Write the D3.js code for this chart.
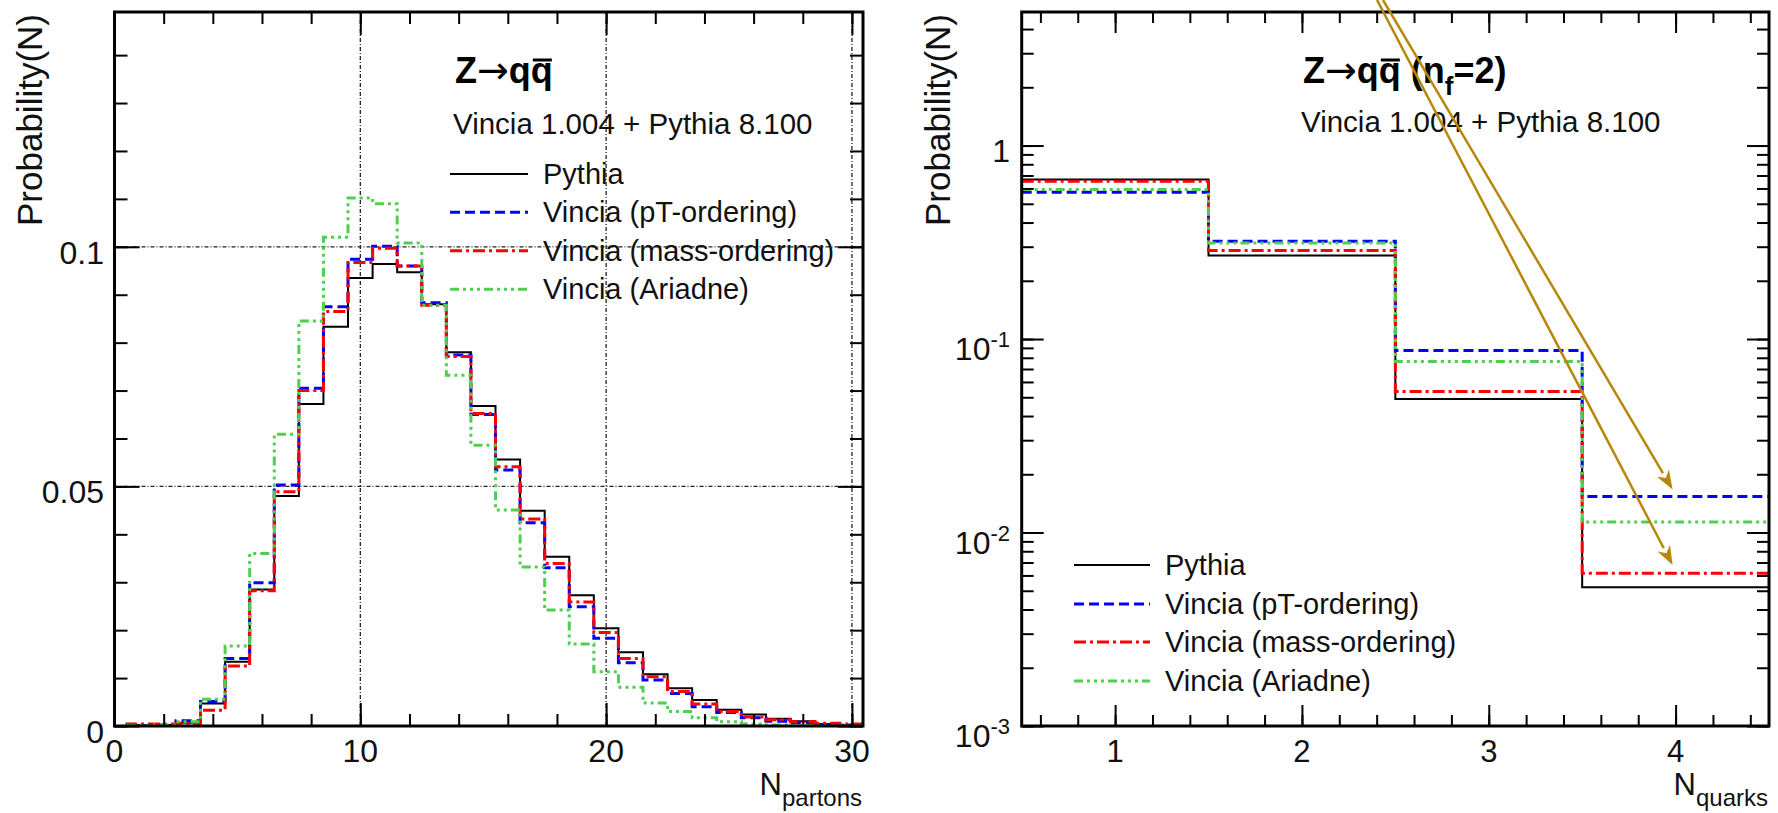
<!DOCTYPE html>
<html>
<head>
<meta charset="utf-8">
<script src="https://cdn.jsdelivr.net/npm/d3@7"></script>
<style>
  body { margin: 0; background: #fff; }
  svg { display: block; font-family: "Liberation Sans", Arial, Helvetica, sans-serif; }
</style>
</head>
<body>
<svg id="chart" width="1778" height="813"></svg>
<script>
var seriesNames = ["Pythia", "Vincia (pT-ordering)", "Vincia (mass-ordering)", "Vincia (Ariadne)"]

// left panel: number of partons
var partonBins = [1, 2, 3, 4, 5, 6, 7, 8, 9, 10, 11, 12, 13, 14, 15, 16, 17, 18, 19, 20, 21, 22, 23, 24, 25, 26, 27, 28, 29, 30]
var pythiaPartons = [0.0002, 0.0002, 0.0007, 0.0047, 0.0134, 0.0285, 0.0480, 0.0672, 0.0833, 0.0935, 0.0964, 0.0947, 0.0880, 0.0780, 0.0668,
                     0.0556, 0.0449, 0.0353, 0.0273, 0.0204, 0.0154, 0.0108, 0.0079, 0.0054, 0.0034, 0.0024, 0.0015, 0.0010, 0.0004, 0.0002]
var vinciaPtPartons = [0.0001, 0.0002, 0.0011, 0.0051, 0.0141, 0.0299, 0.0503, 0.0705, 0.0875, 0.0974, 0.1001, 0.0960, 0.0883, 0.0774, 0.0650,
                       0.0534, 0.0424, 0.0330, 0.0249, 0.0183, 0.0132, 0.0096, 0.0068, 0.0040, 0.0028, 0.0017, 0.0010, 0.0007, 0.0003, 0.0002]
var vinciaMassPartons = [0.0004, 0.0004, 0.0005, 0.0033, 0.0125, 0.0282, 0.0489, 0.0700, 0.0865, 0.0967, 0.0997, 0.0960, 0.0878, 0.0771, 0.0652,
                         0.0541, 0.0432, 0.0339, 0.0259, 0.0195, 0.0141, 0.0103, 0.0072, 0.0046, 0.0030, 0.0019, 0.0013, 0.0009, 0.0006, 0.0004]
var vinciaAriadnePartons = [0.0001, 0.0002, 0.0009, 0.0056, 0.0167, 0.0360, 0.0609, 0.0845, 0.1020, 0.1102, 0.1090, 0.1008, 0.0878, 0.0732, 0.0586,
                            0.0451, 0.0332, 0.0242, 0.0171, 0.0113, 0.0081, 0.0048, 0.0030, 0.0017, 0.0009, 0.0004, 0.0002, 0.0001, 0.0000, 0.0000]
var partonTicks = [0, 10, 20, 30]
var probTicks = [0, 0.05, 0.1]

// right panel: number of quarks (log scale)
var quarkBins = [1, 2, 3, 4]
var pythiaQuarks = [0.667, 0.270, 0.0490, 0.00521]
var vinciaPtQuarks = [0.574, 0.320, 0.0873, 0.01535]
var vinciaMassQuarks = [0.653, 0.287, 0.0536, 0.00616]
var vinciaAriadneQuarks = [0.592, 0.314, 0.0766, 0.01132]
var quarkTicks = [1, 2, 3, 4]
var logTicks = [0.001, 0.01, 0.1, 1]
var logTickExp = ["-3", "-2", "-1", ""]

// the two hand-drawn arrows, in data coordinates of the right panel
var arrowFrom = [[2.434, 5.65], [2.402, 5.65]]
var arrowTo = [[3.984, 0.0167], [3.984, 0.00679]]

var styles = [
  {color: "#000000", width: 2, dash: null},
  {color: "#0000ff", width: 3, dash: "10,5"},
  {color: "#ff0000", width: 3, dash: "12,4,3,4"},
  {color: "#4fcf4f", width: 3, dash: "9,4,3,4,3,4,3,4"}
]

var svg = d3.select("#chart")
svg.append("rect").attr("width", 1778).attr("height", 813).attr("fill", "#fff")

function stepPoints(bins, values, floor) {
  var pts = []
  if (floor != null) pts.push([bins[0] - 0.5, floor])
  bins.forEach(function(b, i) {
    pts.push([b - 0.5, values[i]])
    pts.push([b + 0.5, values[i]])
  })
  if (floor != null) pts.push([bins[bins.length - 1] + 0.5, floor])
  return pts
}

function drawTicks(g, axisFn, scale, values, len, translate) {
  g.append("g")
   .attr("transform", translate)
   .call(axisFn(scale).tickValues(values).tickSize(-len).tickFormat(""))
   .call(function(a) { a.select(".domain").remove() })
   .selectAll("line").attr("stroke", "#000").attr("stroke-width", 2)
}

function frameTicks(g, x, y, xMinor, xMajor, yMinor, yMajor, lens) {
  var r = x.range(), b = y.range()
  drawTicks(g, d3.axisBottom, x, xMinor, lens[0], "translate(0," + b[0] + ")")
  drawTicks(g, d3.axisBottom, x, xMajor, lens[1], "translate(0," + b[0] + ")")
  drawTicks(g, d3.axisTop, x, xMinor, lens[0], "translate(0," + b[1] + ")")
  drawTicks(g, d3.axisTop, x, xMajor, lens[1], "translate(0," + b[1] + ")")
  drawTicks(g, d3.axisLeft, y, yMinor, lens[2], "translate(" + r[0] + ",0)")
  drawTicks(g, d3.axisLeft, y, yMajor, lens[3], "translate(" + r[0] + ",0)")
  drawTicks(g, d3.axisRight, y, yMinor, lens[2], "translate(" + r[1] + ",0)")
  drawTicks(g, d3.axisRight, y, yMajor, lens[3], "translate(" + r[1] + ",0)")
}

function drawHistos(g, x, y, bins, series, floor, clipId) {
  var line = d3.line().x(function(d) { return x(d[0]) }).y(function(d) { return y(d[1]) })
  var r = x.range(), b = y.range()
  g.append("clipPath").attr("id", clipId).append("rect")
   .attr("x", r[0]).attr("y", b[1]).attr("width", r[1] - r[0]).attr("height", b[0] - b[1])
  series.forEach(function(vals, i) {
    g.append("path")
     .attr("d", line(stepPoints(bins, vals, floor)))
     .attr("clip-path", "url(#" + clipId + ")")
     .attr("fill", "none")
     .attr("stroke", styles[i].color)
     .attr("stroke-width", styles[i].width)
     .attr("stroke-dasharray", styles[i].dash)
  })
}

function drawFrame(g, x, y) {
  var r = x.range(), b = y.range()
  g.append("rect")
   .attr("x", r[0]).attr("y", b[1]).attr("width", r[1] - r[0]).attr("height", b[0] - b[1])
   .attr("fill", "none").attr("stroke", "#000").attr("stroke-width", 3)
}

function drawLegend(g, x1, x2, ys) {
  seriesNames.forEach(function(name, i) {
    g.append("line").attr("x1", x1).attr("x2", x2).attr("y1", ys[i]).attr("y2", ys[i])
     .attr("stroke", styles[i].color).attr("stroke-width", styles[i].width)
     .attr("stroke-dasharray", styles[i].dash)
    g.append("text").attr("x", x2 + 15).attr("y", ys[i] + 10)
     .attr("font-size", 29).attr("fill", "#111").text(name)
  })
}

function drawTitle(g, x0, withNf) {
  var t = g.append("text").attr("x", x0).attr("y", 83).attr("font-size", 36).attr("font-weight", "bold")
  t.append("tspan").text("Z")
  t.append("tspan").attr("font-weight", "normal").attr("font-family", "DejaVu Sans")
   .attr("font-size", 38).text("\u2192")
  t.append("tspan").text("qq")
  if (withNf) {
    t.append("tspan").text(" (n")
    t.append("tspan").attr("dy", 12).attr("font-size", 26).text("f")
    t.append("tspan").attr("dy", -12).text("=2)")
  }
  // bar over the anti-quark
  var node = t.node()
  var s = node.getStartPositionOfChar(3), e = node.getEndPositionOfChar(3)
  g.append("line").attr("x1", s.x + 2).attr("x2", e.x - 1).attr("y1", 60).attr("y2", 60)
   .attr("stroke", "#000").attr("stroke-width", 3)
  g.append("text").attr("x", x0 - 2).attr("y", withNf ? 132 : 134)
   .attr("font-size", 29.5).attr("fill", "#111").text("Vincia 1.004 + Pythia 8.100")
}

function axisTitle(g, xEnd, yLabel, sub, yTitleX) {
  var t = g.append("text").attr("x", xEnd).attr("y", 795).attr("text-anchor", "end")
           .attr("font-size", 31).attr("fill", "#111")
  t.append("tspan").text("N")
  t.append("tspan").attr("dy", 11).attr("font-size", 24).text(sub)
  g.append("text")
   .attr("transform", "translate(" + yTitleX + ",14) rotate(-90)")
   .attr("text-anchor", "end").attr("font-size", 35).attr("fill", "#111")
   .text(yLabel)
}

// ---------- left panel ----------
var left = svg.append("g")
var xL = d3.scaleLinear().domain([0, 30.45]).range([114.5, 863])
var yL = d3.scaleLinear().domain([0, 0.149]).range([726, 12])

left.selectAll(".vgrid").data(partonTicks.slice(1)).enter().append("line")
    .attr("x1", function(d) { return xL(d) }).attr("x2", function(d) { return xL(d) })
    .attr("y1", yL.range()[0]).attr("y2", yL.range()[1])
    .attr("stroke", "#222").attr("stroke-width", 1.3).attr("stroke-dasharray", "4,2,1,2")
left.selectAll(".hgrid").data(probTicks.slice(1)).enter().append("line")
    .attr("y1", function(d) { return yL(d) }).attr("y2", function(d) { return yL(d) })
    .attr("x1", xL.range()[0]).attr("x2", xL.range()[1])
    .attr("stroke", "#222").attr("stroke-width", 1.3).attr("stroke-dasharray", "4,2,1,2")

drawHistos(left, xL, yL, partonBins,
           [pythiaPartons, vinciaPtPartons, vinciaMassPartons, vinciaAriadnePartons], 0, "clipL")
frameTicks(left, xL, yL, xL.ticks(15), partonTicks, yL.ticks(15), probTicks, [12, 23, 13, 25])
drawFrame(left, xL, yL)

left.selectAll(".xlab").data(partonTicks).enter().append("text")
    .attr("x", function(d) { return xL(d) }).attr("y", 762)
    .attr("text-anchor", "middle").attr("font-size", 32).attr("fill", "#111")
    .text(function(d) { return d })
left.selectAll(".ylab").data(probTicks).enter().append("text")
    .attr("x", 104).attr("y", function(d) { return yL(d) + 17 })
    .attr("text-anchor", "end").attr("font-size", 32).attr("fill", "#111")
    .text(function(d) { return d })

drawTitle(left, 455, false)
drawLegend(left, 450, 528, [174, 212.3, 250.7, 289.3])
axisTitle(left, 862, "Probability(N)", "partons", 42)

// ---------- right panel ----------
var right = svg.append("g")
var xR = d3.scaleLinear().domain([0.5, 4.5]).range([1021.7, 1769])
var yR = d3.scaleLog().domain([0.001, 4.9]).range([726, 12])

drawHistos(right, xR, yR, quarkBins,
           [pythiaQuarks, vinciaPtQuarks, vinciaMassQuarks, vinciaAriadneQuarks], null, "clipR")
frameTicks(right, xR, yR, xR.ticks(20), quarkTicks, yR.ticks(), logTicks, [11, 21, 12, 22])
drawFrame(right, xR, yR)

right.selectAll(".xlab").data(quarkTicks).enter().append("text")
     .attr("x", function(d) { return xR(d) }).attr("y", 762)
     .attr("text-anchor", "middle").attr("font-size", 31).attr("fill", "#111")
     .text(function(d) { return d })
logTicks.forEach(function(v, i) {
  var t = right.append("text").attr("x", 1010).attr("y", yR(v) + (v === 1 ? 16 : 21))
               .attr("text-anchor", "end").attr("font-size", 32).attr("fill", "#111")
  if (v === 1) { t.text("1"); return }
  t.append("tspan").text("10")
  t.append("tspan").attr("dy", -13).attr("font-size", 22).text(logTickExp[i])
})

drawTitle(right, 1303, true)
drawLegend(right, 1074, 1150, [565, 604, 642, 681])
axisTitle(right, 1768, "Probability(N)", "quarks", 950)

// annotation arrows
arrowFrom.forEach(function(from, i) {
  var x1 = xR(from[0]), y1 = yR(from[1]), x2 = xR(arrowTo[i][0]), y2 = yR(arrowTo[i][1])
  var ang = Math.atan2(y2 - y1, x2 - x1), len = 19, half = 7
  var bx = x2 - len * Math.cos(ang), by = y2 - len * Math.sin(ang)
  right.append("line").attr("x1", x1).attr("y1", y1).attr("x2", bx).attr("y2", by)
       .attr("stroke", "#b8860b").attr("stroke-width", 2.5)
  right.append("path")
       .attr("d", "M" + x2 + "," + y2 +
                  "L" + (bx + half * Math.sin(ang)) + "," + (by - half * Math.cos(ang)) +
                  "L" + (x2 - 0.7 * len * Math.cos(ang)) + "," + (y2 - 0.7 * len * Math.sin(ang)) +
                  "L" + (bx - half * Math.sin(ang)) + "," + (by + half * Math.cos(ang)) + "Z")
       .attr("fill", "#b8860b")
})
</script>
</body>
</html>
